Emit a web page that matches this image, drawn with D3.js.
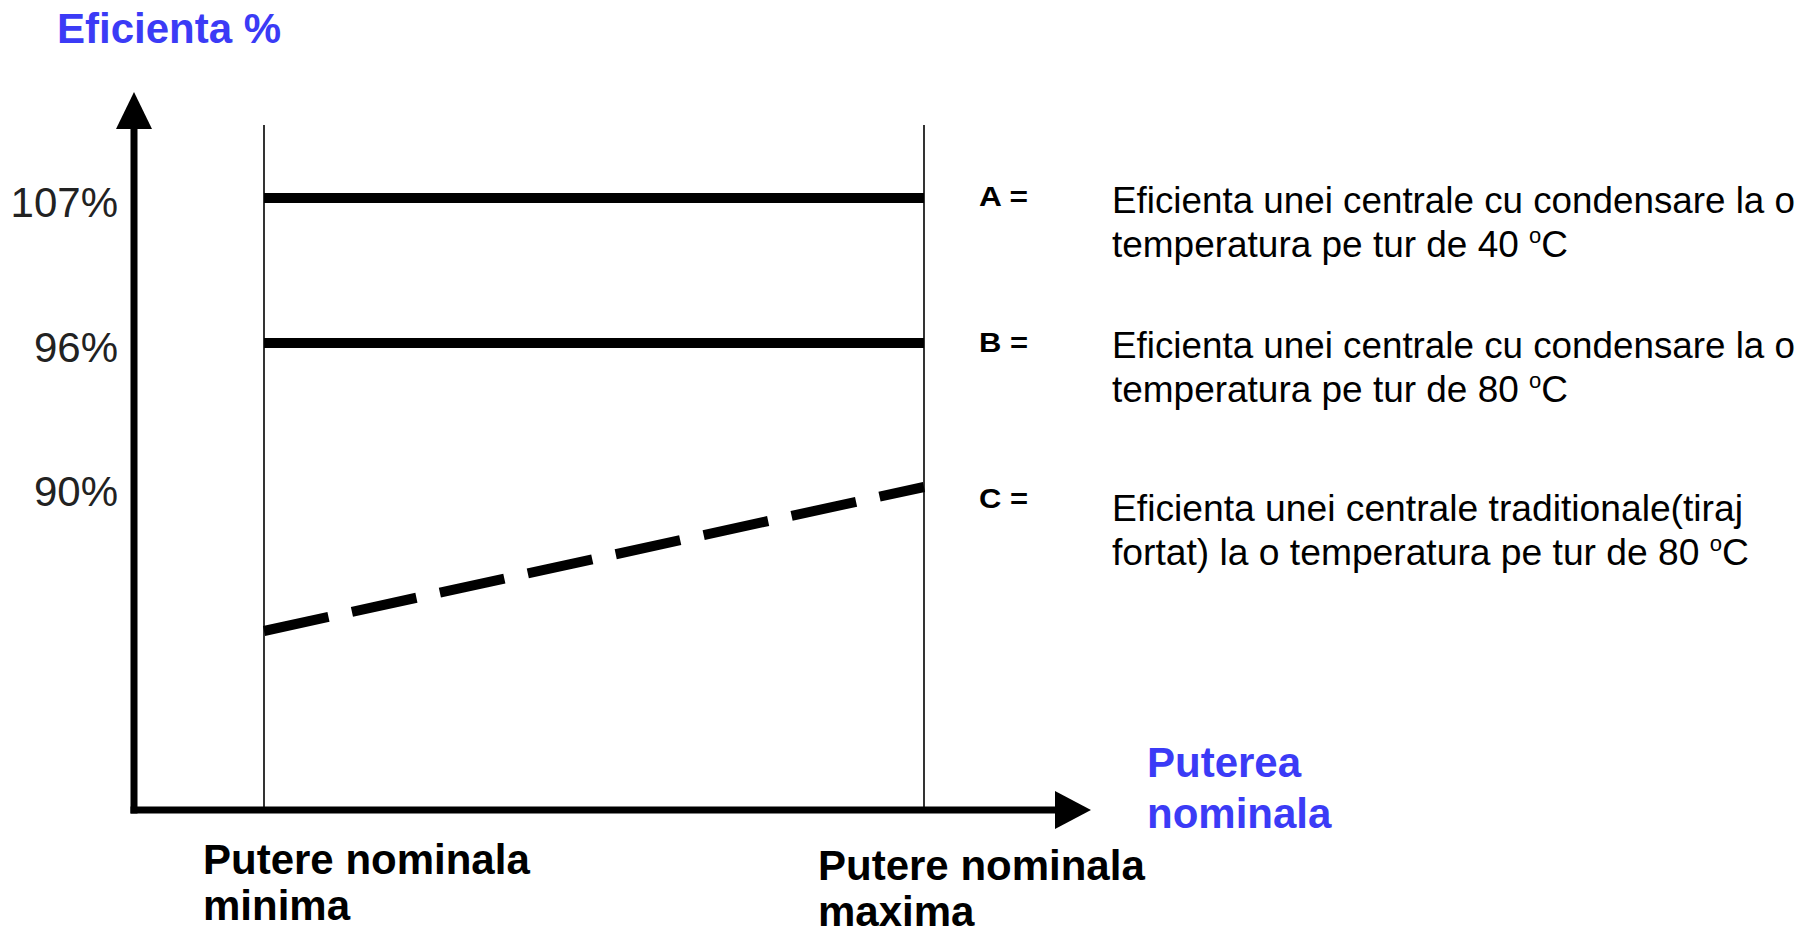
<!DOCTYPE html>
<html>
<head>
<meta charset="utf-8">
<script src="https://cdn.jsdelivr.net/npm/d3@7"></script>
<style>
  html, body { margin: 0; padding: 0; background: #fff; }
  svg { display: block; font-family: "Liberation Sans", Arial, sans-serif; }
</style>
</head>
<body>
<div id="chart"></div>
<script>
// power levels on the x axis
const powerLevels = ["minima", "maxima"];
const powerLabels = [["Putere nominala", "minima"], ["Putere nominala", "maxima"]];

// efficiency (%) at min / max nominal power
const seriesNames = ["A", "B", "C"];
const seriesA = [107, 107];
const seriesB = [96, 96];
const seriesC = [84, 90];

// labelled ticks on the y axis
const yTicks = [107, 96, 90];
// schematic y axis: the levels are evenly spaced, not proportional
const yLevels = [84, 90, 96, 107];

const legendText = [
    ["Eficienta unei centrale cu condensare la o", "temperatura pe tur de 40 "],
    ["Eficienta unei centrale cu condensare la o", "temperatura pe tur de 80 "],
    ["Eficienta unei centrale traditionale(tiraj", "fortat) la o temperatura pe tur de 80 "]
];

const W = 1815, H = 937;
const blue = "#3b3bf6";

const svg = d3.select("#chart").append("svg")
    .attr("width", W)
    .attr("height", H);

const x = d3.scalePoint().domain(powerLevels).range([264, 924]);
const y = d3.scaleLinear().domain(yLevels).range([631, 487, 343, 198]);

const axisX0 = 134, axisY0 = 810;

// vertical guide lines at min / max power
svg.append("g")
    .selectAll("line")
    .data(powerLevels)
    .join("line")
    .attr("x1", d => x(d)).attr("x2", d => x(d))
    .attr("y1", 125).attr("y2", axisY0)
    .attr("stroke", "#000")
    .attr("stroke-width", 1.6);

// series lines
const line = d3.line()
    .x((d, i) => x(powerLevels[i]))
    .y(d => y(d));

const series = [seriesA, seriesB, seriesC];
svg.append("g")
    .selectAll("path")
    .data(series)
    .join("path")
    .attr("d", d => line(d))
    .attr("fill", "none")
    .attr("stroke", "#000")
    .attr("stroke-width", 10)
    .attr("stroke-dasharray", (d, i) => i == 2 ? "66,24" : null);

// axes
svg.append("line")
    .attr("x1", axisX0).attr("x2", axisX0)
    .attr("y1", axisY0 + 3.5).attr("y2", 120)
    .attr("stroke", "#000").attr("stroke-width", 7);
svg.append("path")
    .attr("d", `M${axisX0},92 L${axisX0 + 18},129 L${axisX0 - 18},129 Z`)
    .attr("fill", "#000");

svg.append("line")
    .attr("x1", axisX0 - 3.5).attr("x2", 1060)
    .attr("y1", axisY0).attr("y2", axisY0)
    .attr("stroke", "#000").attr("stroke-width", 7);
svg.append("path")
    .attr("d", `M1091,${axisY0} L1055,${axisY0 - 19} L1055,${axisY0 + 19} Z`)
    .attr("fill", "#000");

// y tick labels
const yAxis = d3.axisLeft(y)
    .tickValues(yTicks)
    .tickSize(0)
    .tickPadding(0)
    .tickFormat(d => d + "%");
const gy = svg.append("g")
    .attr("transform", "translate(118,0)")
    .call(yAxis);
gy.select(".domain").remove();
gy.selectAll("text")
    .attr("dy", "0.45em")
    .attr("font-size", 42)
    .attr("font-family", "Liberation Sans, Arial, sans-serif")
    .attr("fill", "#222");

// axis titles
svg.append("text")
    .attr("x", 57).attr("y", 43)
    .attr("font-size", 42).attr("font-weight", "bold")
    .attr("fill", blue)
    .text("Eficienta %");

const px = svg.append("text")
    .attr("font-size", 42).attr("font-weight", "bold")
    .attr("fill", blue);
px.append("tspan").attr("x", 1147).attr("y", 777).text("Puterea");
px.append("tspan").attr("x", 1147).attr("y", 828).text("nominala");

// x category labels
const labelPos = [{ dx: -61, y: 874 }, { dx: -106, y: 880 }];
powerLabels.forEach((lines, i) => {
    const t = svg.append("text")
        .attr("font-size", 42).attr("font-weight", "bold")
        .attr("fill", "#000");
    lines.forEach((s, j) => {
        t.append("tspan")
            .attr("x", x(powerLevels[i]) + labelPos[i].dx)
            .attr("y", labelPos[i].y + j * 46)
            .text(s);
    });
});

// legend
const legendKeyY = [206, 352, 508];
const legendTextY = [213, 358, 521];
const lineWidths = [[683, 456], [683, 456], [631, 637]];

seriesNames.forEach((name, i) => {
    svg.append("text")
        .attr("x", 979).attr("y", legendKeyY[i])
        .attr("font-size", 27).attr("font-weight", "bold")
        .attr("textLength", 49).attr("lengthAdjust", "spacingAndGlyphs")
        .text(name + " =");

    legendText[i].forEach((s, j) => {
        const t = svg.append("text")
            .attr("x", 1112).attr("y", legendTextY[i] + j * 44)
            .attr("font-size", 37)
            .attr("fill", "#000")
            .attr("textLength", lineWidths[i][j])
            .attr("lengthAdjust", "spacingAndGlyphs");
        t.append("tspan").text(s);
        if (j == 1) {
            t.append("tspan").attr("font-size", 22).attr("dy", -14).text("o");
            t.append("tspan").attr("dy", 14).text("C");
        }
    });
});
</script>
</body>
</html>
